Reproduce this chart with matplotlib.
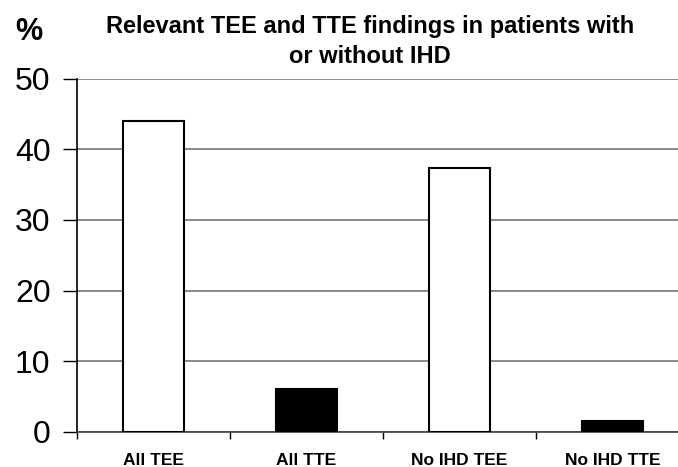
import matplotlib
matplotlib.use("Agg")
import matplotlib.pyplot as plt
import numpy as np

plt.rcParams["font.family"] = ["Liberation Sans", "DejaVu Sans"]

categories = ["All TEE", "All TTE", "No IHD TEE", "No IHD TTE"]
values = [44.0, 6.1, 37.4, 1.5]
bar_colors = ["white", "black", "white", "black"]
y_ticks = [0, 10, 20, 30, 40, 50]
title_lines = ["Relevant TEE and TTE findings in patients with", "or without IHD"]

W, H = 678, 467
fig = plt.figure(figsize=(W / 100, H / 100), dpi=100)
ax = fig.add_axes([77 / W, (H - 431.7) / H, 612 / W, 353 / H])

x = np.arange(len(categories))
ax.bar(x, values, width=0.4, color=bar_colors, edgecolor="black", linewidth=1.5, zorder=3)

ax.set_xlim(-0.5, len(categories) - 0.5)
ax.set_ylim(0, 50)
ax.set_yticks(y_ticks)
ax.set_yticklabels([str(t) for t in y_ticks], fontsize=23)
ax.yaxis.grid(True, color="#808080", linewidth=1.3, zorder=0)
ax.set_axisbelow(True)

# category ticks sit between the bars
ax.set_xticks(np.arange(len(categories) + 1) - 0.5)
ax.set_xticklabels([])
ax.set_xticks(x, minor=True)
ax.set_xticklabels(categories, minor=True, fontsize=12.5, fontweight="bold")
ax.tick_params(axis="x", which="major", length=5, width=1, color="black", direction="out")
ax.tick_params(axis="x", which="minor", length=0, pad=15)
ax.tick_params(axis="y", length=10, width=1, pad=9, direction="out")

for side in ["top", "right"]:
    ax.spines[side].set_visible(False)
ax.spines["left"].set_linewidth(1.2)
ax.spines["bottom"].set_linewidth(1.2)
ax.spines["bottom"].set_color("#404040")

for line, base in zip(title_lines, [33.3, 62.7]):
    fig.text(370 / W, 1 - base / H, line, ha="center", va="baseline",
             fontsize=17, fontweight="bold")
fig.text(28.5 / W, 1 - 31.5 / H, "%", ha="center", va="center", fontsize=22, fontweight="bold")

fig.savefig("out.png", dpi=100)
